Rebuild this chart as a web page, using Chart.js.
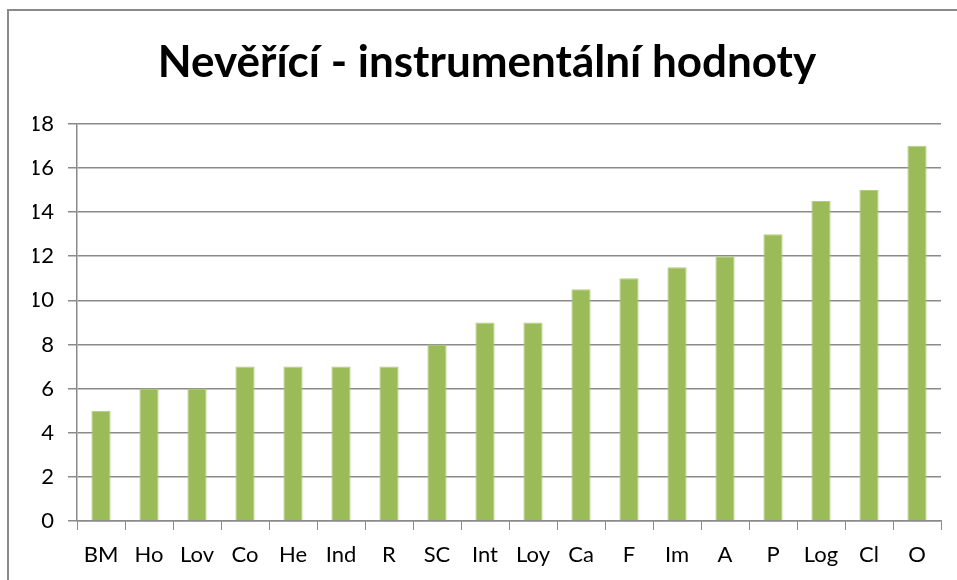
<!DOCTYPE html>
<html>
<head>
<meta charset="utf-8">
<script src="https://cdn.jsdelivr.net/npm/chart.js@4"></script>
<style>
    html, body { margin: 0; padding: 0; background: #fff; overflow: hidden; }
    #wrap { position: relative; width: 957px; height: 580px; overflow: hidden; }
    #frame {
        position: absolute; left: 7px; top: 9px; width: 1000px; height: 1000px;
        border: 2px solid #8a8a8a; pointer-events: none;
    }
    canvas { position: absolute; left: 0; top: 0; }
</style>
</head>
<body>
<div id="wrap">
    <canvas id="chart" width="957" height="580"></canvas>
    <div id="frame"></div>
</div>
<script>
const categories = ["BM", "Ho", "Lov", "Co", "He", "Ind", "R", "SC", "Int", "Loy", "Ca", "F", "Im", "A", "P", "Log", "Cl", "O"];
const values = [5, 6, 6, 7, 7, 7, 7, 8, 9, 9, 10.5, 11, 11.5, 12, 13, 14.5, 15, 17];
const yTicks = [0, 2, 4, 6, 8, 10, 12, 14, 16, 18];

const labelFont = { family: "Lato, 'Open Sans', sans-serif", size: 22 };

const ctx = document.getElementById("chart").getContext("2d");
new Chart(ctx, {
    type: "bar",
    data: {
        labels: categories,
        datasets: [
            {
                data: values,
                backgroundColor: "#9BBB59",
                borderColor: "#B4CC82",
                borderWidth: 1,
                barPercentage: 0.4,
                categoryPercentage: 1,
            },
        ],
    },
    options: {
        responsive: false,
        animation: false,
        // left padding balances the title so it sits centred like the original
        layout: { padding: { left: 33, right: 16, top: 0, bottom: 0 } },
        plugins: {
            legend: { display: false },
            tooltip: { enabled: false },
            title: {
                display: true,
                text: "Nevěřící - instrumentální hodnoty",
                color: "#000",
                font: { family: "Lato, 'Open Sans', sans-serif", size: 44, weight: "bold" },
                padding: { top: 36, bottom: 35 },
            },
        },
        scales: {
            x: {
                offset: true,
                grid: {
                    offset: true,
                    drawOnChartArea: false,
                    drawTicks: true,
                    tickLength: 9,
                    color: "#8a8a8a",
                },
                border: { display: true, color: "#8a8a8a", width: 1.5 },
                ticks: { color: "#000", font: labelFont, padding: 12, maxRotation: 0, autoSkip: false },
                afterFit: (scale) => { scale.height = 59; },
            },
            y: {
                min: 0,
                max: 18,
                afterBuildTicks: (scale) => { scale.ticks = yTicks.map((v) => ({ value: v })); },
                grid: { color: "#8a8a8a", lineWidth: 1.5, tickLength: 9 },
                border: { display: true, color: "#8a8a8a", width: 1.5 },
                ticks: { color: "#000", font: labelFont, padding: 14 },
                afterFit: (scale) => { scale.width = 44; },
            },
        },
    },
});
</script>
</body>
</html>
